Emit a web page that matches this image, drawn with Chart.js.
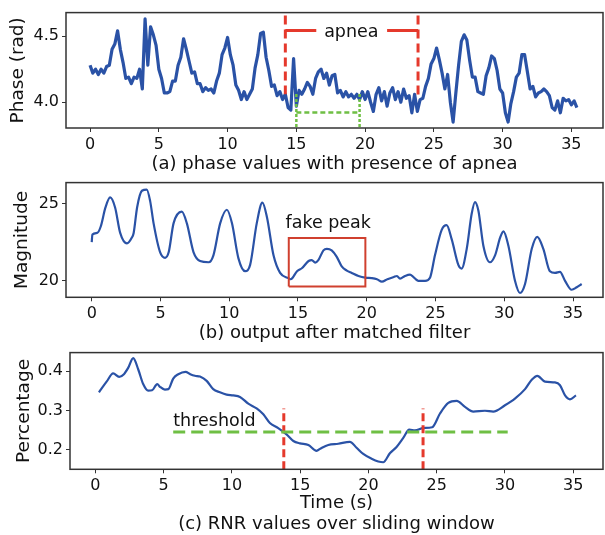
<!DOCTYPE html>
<html>
<head>
<meta charset="utf-8">
<script src="https://cdn.jsdelivr.net/npm/chart.js@4.4.1/dist/chart.umd.min.js"></script>
<style>
  body { margin: 0; background: #fff; }
  #wrap { position: relative; width: 605px; height: 535px; }
  canvas { position: absolute; left: 0; }
</style>
</head>
<body>
<div id="wrap">
  <canvas id="phaseChart" width="605" height="174" style="top:0px"></canvas>
  <canvas id="magChart" width="605" height="173" style="top:170px"></canvas>
  <canvas id="rnrChart" width="605" height="195" style="top:340px"></canvas>
</div>
<script>
Chart.defaults.font.family = '"DejaVu Sans", sans-serif';
Chart.defaults.color = '#111';

const blue = '#2a52a6';
const red = '#e5392c';
const boxRed = '#d0402f';
const green = '#6fbf44';

// (a) phase, sampled every 0.2 s
const phaseStep = 0.2;
const phaseValues = [
  4.28, 4.22, 4.25, 4.21, 4.25, 4.22, 4.27, 4.28, 4.40, 4.44,
  4.54, 4.40, 4.30, 4.18, 4.19, 4.14, 4.19, 4.18, 4.25, 4.10,
  4.63, 4.28, 4.57, 4.51, 4.43, 4.25, 4.18, 4.07, 4.07, 4.08,
  4.16, 4.16, 4.28, 4.34, 4.48, 4.40, 4.31, 4.22, 4.23, 4.14,
  4.14, 4.08, 4.11, 4.09, 4.10, 4.07, 4.16, 4.22, 4.36, 4.41,
  4.49, 4.36, 4.28, 4.13, 4.09, 4.02, 4.08, 4.02, 4.06, 4.10,
  4.26, 4.36, 4.52, 4.53, 4.34, 4.24, 4.12, 4.13, 4.05, 4.08,
  4.02, 4.06, 3.96, 3.94, 4.33, 3.97, 4.09, 4.06, 4.10, 4.15,
  4.12, 4.06, 4.18, 4.23, 4.25, 4.18, 4.22, 4.13, 4.20, 4.21,
  4.07, 4.09, 4.04, 4.08, 4.04, 4.06, 4.03, 4.06, 4.02, 4.08,
  4.02, 4.08, 4.00, 3.93, 4.06, 4.11, 4.01, 4.08, 3.97, 4.07,
  4.11, 4.02, 4.08, 4.00, 4.10, 4.03, 4.05, 3.92, 4.06, 3.93,
  4.02, 4.03, 4.12, 4.18, 4.29, 4.33, 4.41, 4.32, 4.22, 4.10,
  4.21, 4.00, 3.85, 4.07, 4.28, 4.46, 4.51, 4.47, 4.32, 4.19,
  4.19, 4.08, 4.07, 4.06, 4.20, 4.26, 4.35, 4.33, 4.24, 4.10,
  4.07, 3.92, 3.85, 3.99, 4.08, 4.19, 4.22, 4.36, 4.36, 4.23,
  4.10, 4.12, 4.04, 4.07, 4.08, 4.10, 4.08, 4.05, 3.96, 3.94,
  4.01, 3.92, 4.03, 4.01, 4.02, 3.98, 4.01, 3.96
];
const apneaStart = 14.2, apneaEnd = 23.85;
const apneaTop = 4.656, apneaLeftBottom = 4.06, apneaRightBottom = 4.055;
const bracketY = 4.543, bracketGapStart = 16.45, bracketGapEnd = 21.6;
const fakeStart = 15.0, fakeEnd = 19.6, fakeTop = 4.063, fakeY = 3.923;

// (b) matched filter output
const magTime = [
  0.0, 0.05, 0.4, 0.65, 1.0, 1.34, 1.7, 2.07, 2.56, 2.92, 3.05, 3.3, 3.65, 4.0, 4.25, 4.5,
  4.97, 5.34, 5.6, 5.95, 6.55, 6.92, 7.4, 7.88, 8.5, 8.85, 9.34, 9.83, 10.2, 10.67, 11.16,
  11.52, 12.0, 12.41, 12.74, 13.22, 13.7, 14.3, 14.47, 14.93, 15.3, 15.77, 16.0, 16.25,
  16.48, 16.85, 17.1, 17.45, 17.82, 18.18, 18.55, 18.9, 19.4, 19.9, 20.37, 20.74, 21.1,
  21.5, 21.97, 22.2, 22.42, 22.78, 23.15, 23.5, 23.75, 24.24, 24.6, 24.96, 25.45, 25.81,
  26.18, 26.66, 26.9, 27.27, 27.63, 27.87, 28.12, 28.48, 28.96, 29.33, 29.7, 29.94, 30.3,
  30.78, 31.14, 31.51, 32.0, 32.4, 32.84, 33.32, 33.69, 34.05, 34.42, 34.9, 35.27, 35.63
];
const magValue = [
  22.5, 23.0, 23.1, 23.5, 24.75, 25.4, 24.75, 23.1, 22.42, 22.8, 23.1, 24.75, 25.83, 25.9, 25.16, 23.72,
  21.86, 21.49, 21.86, 23.72, 24.48, 23.72, 21.86, 21.28, 21.2, 21.65, 23.72, 24.6, 23.72, 21.45, 20.62,
  21.03, 23.72, 25.06, 24.13, 21.65, 20.51, 20.17, 20.1, 20.62, 20.83, 21.28, 21.34, 21.18,
  21.34, 21.97, 22.07, 21.97, 21.55, 20.93, 20.66, 20.51, 20.31, 20.2, 20.17, 20.1, 19.94,
  20.1, 20.25, 20.31, 20.14, 20.31, 20.4, 20.15, 20.0, 20.0, 20.2, 21.65, 23.3, 23.6,
  22.68, 21.03, 20.79, 22.07, 24.34, 25.1, 24.54, 22.27, 21.2, 21.65, 22.79, 23.2, 22.27,
  20.0, 19.21, 19.79, 22.07, 22.85, 22.07, 20.62, 20.51, 20.58, 20.0, 19.42, 19.58, 19.79
];
const boxX0 = 14.33, boxX1 = 19.9, boxY0 = 19.63, boxY1 = 22.77;

// (c) RNR over sliding window
const rnrTime = [
  0.26, 0.82, 1.3, 1.74, 2.09, 2.4, 2.77, 3.14, 3.5, 3.87, 4.15, 4.53, 4.73, 5.09, 5.35,
  5.7, 6.07, 6.6, 6.95, 7.29, 7.66, 8.15, 8.63, 9.12, 9.61, 10.1, 10.59, 11.2, 11.81,
  12.3, 12.78, 13.39, 14.0, 14.5, 14.98, 15.6, 16.2, 16.5, 17.06, 17.79, 18.64, 19.13,
  19.62, 20.23, 20.72, 21.08, 21.57, 22.06, 22.55, 22.99, 23.41, 24.01, 24.67, 25.24,
  25.85, 26.46, 27.07, 27.68, 28.53, 29.14, 30.0, 30.73, 31.47, 31.96, 32.37, 32.93,
  33.66, 34.03, 34.4, 34.76, 35.2
];
const rnrValue = [
  0.346, 0.373, 0.394, 0.385, 0.392, 0.408, 0.433, 0.404, 0.367, 0.350, 0.351, 0.367, 0.360, 0.353, 0.354,
  0.381, 0.392, 0.398, 0.392, 0.388, 0.386, 0.375, 0.354, 0.346, 0.340, 0.338, 0.334, 0.317, 0.305,
  0.290, 0.268, 0.255, 0.239, 0.222, 0.216, 0.212, 0.197, 0.203, 0.212, 0.215, 0.220, 0.205,
  0.189, 0.177, 0.170, 0.168, 0.191, 0.207, 0.230, 0.251, 0.249, 0.255, 0.257, 0.292,
  0.319, 0.324, 0.309, 0.297, 0.299, 0.297, 0.313, 0.330, 0.354, 0.378, 0.388, 0.373,
  0.371, 0.364, 0.338, 0.328, 0.338
];
const threshold = 0.245, thresholdFrom = 5.7, thresholdTo = 30.2;
const windowStart = 13.8, windowEnd = 24.0, windowTop = 0.305;

function pts(xs, ys) {
  return xs.map((x, i) => ({ x: x, y: ys[i] }));
}

function seg(xs, ys, color, width, dash) {
  return {
    data: pts(xs, ys), borderColor: color, borderWidth: width, borderDash: dash || [],
    pointRadius: 0, tension: 0, order: 0, borderCapStyle: 'butt'
  };
}

const framePlugin = {
  id: 'frame',
  afterDraw(chart) {
    const { ctx, chartArea: a } = chart;
    ctx.save();
    ctx.strokeStyle = '#333';
    ctx.lineWidth = 1.5;
    ctx.strokeRect(a.left, a.top, a.right - a.left, a.bottom - a.top);
    ctx.restore();
  }
};

const notesPlugin = {
  id: 'notes',
  afterDatasetsDraw(chart, args, opts) {
    const { ctx, scales } = chart;
    (opts.items || []).forEach(n => {
      ctx.save();
      ctx.font = '17.5px "DejaVu Sans"';
      ctx.fillStyle = '#111';
      ctx.textAlign = 'center';
      ctx.textBaseline = 'middle';
      ctx.fillText(n.text, scales.x.getPixelForValue(n.x), scales.y.getPixelForValue(n.y));
      ctx.restore();
    });
  }
};

function xAxis(min, max, title, axisHeight, titlePad) {
  return {
    type: 'linear', min: min, max: max,
    ticks: { stepSize: 5, includeBounds: false, font: { size: 16 }, padding: 3, maxRotation: 0 },
    grid: { drawOnChartArea: false, drawTicks: true, tickLength: 4, color: '#333' },
    border: { display: false },
    title: { display: true, text: title, font: { size: 18, lineHeight: 1.12 }, padding: { top: 0, bottom: titlePad } },
    afterFit: s => { s.height = axisHeight; }
  };
}

function yAxis(min, max, step, digits, title, axisWidth, titlePad) {
  return {
    min: min, max: max,
    ticks: { stepSize: step, includeBounds: false, font: { size: 16 }, padding: 3,
             callback: v => v.toFixed(digits) },
    grid: { drawOnChartArea: false, drawTicks: true, tickLength: 4, color: '#333' },
    border: { display: false },
    title: { display: true, text: title, font: { size: 18.5 }, padding: { top: titlePad, bottom: 0 } },
    afterFit: s => { s.width = axisWidth; }
  };
}

const baseOpts = {
  responsive: false,
  animation: false,
  events: []
};

// panel (a)
new Chart(document.getElementById('phaseChart'), {
  type: 'line',
  data: {
    datasets: [
      {
        data: phaseValues.map((v, i) => ({ x: i * phaseStep, y: v })),
        borderColor: blue, borderWidth: 3.2, pointRadius: 0, tension: 0,
        borderJoinStyle: 'round', order: 1
      },
      seg([apneaStart, apneaStart], [apneaTop, apneaLeftBottom], red, 3, [9, 5]),
      seg([apneaEnd, apneaEnd], [apneaTop, apneaRightBottom], red, 3, [9, 5]),
      seg([apneaStart, bracketGapStart], [bracketY, bracketY], red, 3),
      seg([bracketGapEnd, apneaEnd], [bracketY, bracketY], red, 3),
      seg([fakeStart, fakeStart], [fakeTop, 3.805], green, 2.5, [3, 2]),
      seg([fakeEnd, fakeEnd], [fakeTop, 3.805], green, 2.5, [3, 2]),
      seg([fakeStart, fakeEnd], [fakeY, fakeY], green, 2.5, [5, 3])
    ]
  },
  options: Object.assign({}, baseOpts, {
    layout: { padding: { top: 7, right: 2, left: 0, bottom: 0 } },
    plugins: {
      legend: { display: false }, tooltip: { enabled: false },
      notes: { items: [{ text: 'apnea', x: 19.0, y: 4.528 }] }
    },
    scales: {
      x: xAxis(-1.75, 37.3, '(a) phase values with presence of apnea', 46, 0),
      y: yAxis(3.805, 4.678, 0.5, 1, 'Phase (rad)', 66, 7)
    }
  }),
  plugins: [framePlugin, notesPlugin]
});

// panel (b)
new Chart(document.getElementById('magChart'), {
  type: 'line',
  data: {
    datasets: [
      {
        data: pts(magTime, magValue),
        borderColor: blue, borderWidth: 2.2, pointRadius: 0,
        cubicInterpolationMode: 'monotone', order: 1
      },
      seg([boxX0, boxX1, boxX1, boxX0, boxX0], [boxY0, boxY0, boxY1, boxY1, boxY0], boxRed, 2)
    ]
  },
  options: Object.assign({}, baseOpts, {
    layout: { padding: { top: 7.3, right: 2, left: 0, bottom: 0 } },
    plugins: {
      legend: { display: false }, tooltip: { enabled: false },
      notes: { items: [{ text: 'fake peak', x: 17.2, y: 23.7 }] }
    },
    scales: {
      x: xAxis(-1.87, 37.18, '(b) output after matched filter', 45.7, 0),
      y: yAxis(18.93, 26.36, 5, 0, 'Magnitude', 66, 11)
    }
  }),
  plugins: [framePlugin, notesPlugin]
});

// panel (c)
new Chart(document.getElementById('rnrChart'), {
  type: 'line',
  data: {
    datasets: [
      {
        data: pts(rnrTime, rnrValue),
        borderColor: blue, borderWidth: 2.2, pointRadius: 0,
        cubicInterpolationMode: 'monotone', order: 2
      },
      seg([thresholdFrom, thresholdTo], [threshold, threshold], green, 3, [12, 6]),
      seg([windowStart, windowStart], [0.15, windowTop], red, 3, [8, 4]),
      seg([windowEnd, windowEnd], [0.15, windowTop], red, 3, [8, 4])
    ]
  },
  options: Object.assign({}, baseOpts, {
    layout: { padding: { top: 9.3, right: 2, left: 0, bottom: 0 } },
    plugins: {
      legend: { display: false }, tooltip: { enabled: false },
      notes: { items: [{ text: 'threshold', x: 8.72, y: 0.271 }] }
    },
    scales: {
      x: xAxis(-1.86, 37.18, ['Time (s)', '(c) RNR values over sliding window'], 65.7, 1),
      y: yAxis(0.15, 0.447, 0.1, 1, 'Percentage', 70, 13)
    }
  }),
  plugins: [framePlugin, notesPlugin]
});
</script>
</body>
</html>
